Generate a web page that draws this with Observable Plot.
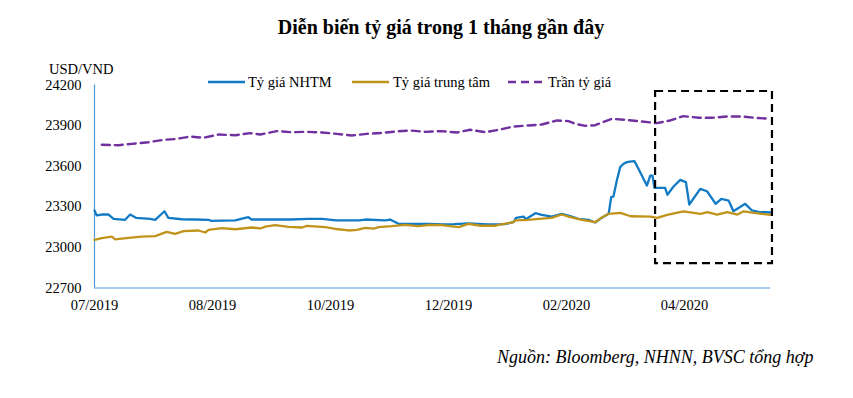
<!DOCTYPE html>
<html><head><meta charset="utf-8">
<script src="https://cdn.jsdelivr.net/npm/d3@7"></script>
<script src="https://cdn.jsdelivr.net/npm/@observablehq/plot@0.6"></script>
<style>
body{margin:0;background:#fff}
#wrap{position:relative;width:853px;height:398px;overflow:hidden}
#wrap svg{position:absolute;left:0;top:0}
</style></head><body><div id="wrap"></div>
<script>
const tickDays=[0,42,84,126,168,210];
const tickLabels=["07/2019","08/2019","10/2019","12/2019","02/2020","04/2020"];
const yTicks=[22700,23000,23300,23600,23900,24200];

const nhtmDay=[0,0.8,2.5,5,6.8,10.9,12.7,14.9,19.8,21.6,24.9,26.3,31,35.8,40.6,41.6,50.1,53.6,54.8,55.9,59,70,76,81,86,94,96.4,103.5,105.2,108.2,119.6,124,128,133,140,146,149.1,150,152.7,153.5,156.9,159.2,162.8,166.3,168.7,172.3,175.8,178.2,180,183,183.9,184.7,185.9,187.1,188.3,189.5,191.2,192.2,193.6,196.6,197.8,198.6,199.3,203.1,203.9,206.1,208.5,210.5,211.7,215.6,218,221.1,223.1,225.7,227.4,231.6,234,236.3,240.5];
const nhtmRate=[23272,23236,23243,23243,23211,23204,23243,23218,23211,23204,23267,23218,23208,23206,23204,23196,23199,23218,23223,23206,23206,23206,23211,23211,23199,23199,23206,23199,23206,23174,23174,23170,23172,23177,23170,23172,23186,23218,23228,23208,23253,23241,23228,23248,23235,23211,23204,23184,23211,23248,23371,23376,23494,23593,23618,23630,23635,23637,23581,23457,23531,23531,23440,23440,23389,23450,23499,23482,23317,23433,23415,23322,23359,23346,23267,23322,23273,23263,23258];

const ttDay=[0,2.6,6.2,7.4,12.1,16.8,21.6,25.7,28.7,31.7,37,39.4,40.6,45.3,50.1,56,59,60.8,64.3,69.1,73.8,75.6,82.1,86.8,90.4,93.4,96.4,99.3,101.1,105.8,110.6,115.3,119.5,123.5,129.6,133.1,137.4,142.7,143.8,149.1,149.8,154.4,158,162.7,166.3,168.7,173.5,178.2,180.1,183,187.2,190.8,197.9,200.3,203.8,209.6,215.7,218.1,221.6,225.2,228.8,231.1,234.7,240.6];
const ttRate=[23056,23068,23080,23060,23070,23080,23083,23115,23100,23120,23125,23110,23130,23142,23134,23147,23140,23154,23164,23152,23147,23159,23150,23134,23125,23130,23145,23138,23150,23157,23167,23157,23167,23165,23150,23174,23160,23160,23167,23186,23199,23204,23211,23218,23243,23228,23204,23186,23215,23248,23255,23230,23228,23218,23240,23267,23248,23260,23243,23260,23243,23267,23255,23240];

const tranDay=[2.6,8.5,13.3,19.2,24.6,28.7,34.1,38.8,44.1,50.1,55.4,59,64.9,70.2,75.6,80.9,86.2,91.6,96.9,102.3,107,112.4,117.7,123.6,129,133.7,139.1,143.8,149.1,154.5,159.2,164.6,168.7,171.1,174.7,178.2,180,184.1,188.8,194.8,200.1,204.9,209.6,215,219.7,225.1,230.4,234.8,240.5];
const tranRate=[23758,23755,23765,23777,23795,23800,23819,23810,23834,23829,23844,23834,23859,23851,23854,23849,23839,23827,23839,23846,23856,23864,23854,23859,23849,23869,23851,23869,23893,23901,23908,23938,23933,23913,23898,23903,23918,23950,23943,23930,23918,23938,23970,23958,23958,23967,23967,23958,23950];

const boxDay=[199.7,241.3];
const boxRate=[22880,24152];

const seriesNames=["Tỷ giá NHTM","Tỷ giá trung tâm","Trần tỷ giá"];
const colors=["#137bc6","#c0941a","#7030a0"];
const axisColor="#4f98d8";

const rows=(d,r)=>d.map((x,i)=>({day:x,rate:r[i]}));
const nhtm=rows(nhtmDay,nhtmRate), tt=rows(ttDay,ttRate), tran=rows(tranDay,tranRate);

const chart=Plot.plot({
  width:853,height:398,
  marginTop:84.5,marginBottom:110.5,marginLeft:94,marginRight:83,
  style:{fontFamily:"'Liberation Serif', serif",fontSize:"14.5px",color:"#000",background:"transparent"},
  x:{domain:[0,240.6],ticks:tickDays,tickFormat:d=>tickLabels[tickDays.indexOf(d)],tickSize:0,tickPadding:12,label:null},
  y:{domain:[22700,24200],ticks:yTicks,tickFormat:d3.format("d"),tickSize:0,tickPadding:13,label:null},
  marks:[
    Plot.ruleX([0],{y1:22700,y2:24200,stroke:axisColor,strokeWidth:1.2}),
    Plot.ruleY([22700],{x1:0,x2:240.6,stroke:axisColor,strokeWidth:1.2}),
    Plot.line(nhtm,{x:"day",y:"rate",stroke:colors[0],strokeWidth:2.3}),
    Plot.line(tt,{x:"day",y:"rate",stroke:colors[1],strokeWidth:2.3}),
    Plot.line(tran,{x:"day",y:"rate",stroke:colors[2],strokeWidth:2.4,strokeDasharray:"8,5"}),
    Plot.rect([{x1:boxDay[0],x2:boxDay[1],y1:boxRate[0],y2:boxRate[1]}],{x1:"x1",x2:"x2",y1:"y1",y2:"y2",fill:"none",stroke:"#000",strokeWidth:2.2,strokeDasharray:"8,5"})
  ]
});
const wrap=document.getElementById("wrap");
wrap.appendChild(chart);

// overlay texts: title, y unit, legend, caption
const ov=d3.select(wrap).append("svg").attr("width",853).attr("height",398)
  .style("font-family","'Liberation Serif', serif").style("pointer-events","none");
ov.append("text").attr("x",441).attr("y",34).attr("text-anchor","middle")
  .attr("font-size",20).attr("font-weight","bold").text("Diễn biến tỷ giá trong 1 tháng gần đây");
ov.append("text").attr("x",49).attr("y",74).attr("font-size",14.5).text("USD/VND");
const leg=[{x1:208,x2:245,tx:248,dash:null},{x1:352,x2:389,tx:393,dash:null},{x1:508,x2:545,tx:548,dash:"8,5"}];
leg.forEach((l,i)=>{
  ov.append("line").attr("x1",l.x1).attr("x2",l.x2).attr("y1",82).attr("y2",82)
    .attr("stroke",colors[i]).attr("stroke-width",2.4).attr("stroke-dasharray",l.dash);
  ov.append("text").attr("x",l.tx).attr("y",87).attr("font-size",14.5).text(seriesNames[i]);
});
ov.append("text").attr("x",497).attr("y",363).attr("font-size",18).attr("font-style","italic")
  .text("Nguồn: Bloomberg, NHNN, BVSC tổng hợp");
</script></body></html>
